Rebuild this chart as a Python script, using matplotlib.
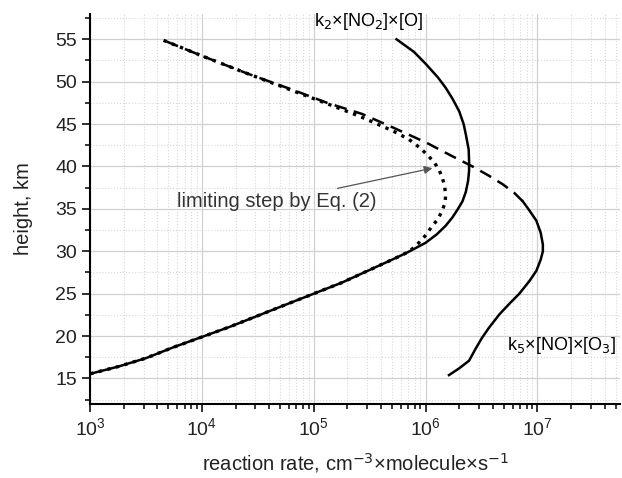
import numpy as np
import matplotlib.pyplot as plt
from matplotlib.ticker import MultipleLocator, LogLocator

plt.rcParams['font.family'] = ['Liberation Sans', 'DejaVu Sans']

# k2 x [NO2] x [O]  (solid)
h_k2 = [15.55, 16.4, 17.4, 18.7, 19.9, 21.1, 22.4, 23.7, 25.0, 26.3, 27.8,
        29.3, 30.0, 31.0, 32.0, 33.0, 34.0, 35.0, 35.9, 37.0, 38.3, 39.5,
        40.6, 42.0, 43.8, 45.0, 46.5, 48.0, 49.3, 50.5, 52.0, 53.5, 55.0]
r_k2 = [1.0e3, 1.78e3, 3.16e3, 5.6e3, 1.0e4, 1.78e4, 3.16e4, 5.6e4, 1.0e5,
        1.78e5, 3.16e5, 5.6e5, 7.2e5, 1.0e6, 1.26e6, 1.51e6, 1.74e6, 1.95e6,
        2.14e6, 2.29e6, 2.4e6, 2.45e6, 2.45e6, 2.43e6, 2.29e6, 2.19e6, 2.0e6,
        1.74e6, 1.51e6, 1.29e6, 1.02e6, 7.9e5, 5.5e5]

# limiting step by Eq. (2)  (dotted)
h_lim = [15.55, 16.4, 17.4, 18.7, 19.9, 21.1, 22.4, 23.7, 25.0, 26.3, 27.8,
         29.3, 30.0, 31.0, 32.0, 32.8, 33.8, 34.8, 35.8, 36.7, 37.7, 38.7,
         39.6, 40.45, 41.3, 42.2, 43.2, 44.2, 45.0, 45.9, 47.5, 49.0, 51.0,
         53.0, 55.0]
r_lim = [1.0e3, 1.78e3, 3.16e3, 5.6e3, 1.0e4, 1.78e4, 3.16e4, 5.6e4, 1.0e5,
         1.78e5, 3.16e5, 5.6e5, 7.2e5, 8.7e5, 1.02e6, 1.12e6, 1.29e6, 1.41e6,
         1.5e6, 1.51e6, 1.48e6, 1.41e6, 1.32e6, 1.2e6, 1.05e6, 8.9e5, 7.1e5,
         5.1e5, 3.7e5, 2.6e5, 1.26e5, 6.3e4, 2.5e4, 1.02e4, 4.3e3]

# k5 x [NO] x [O3]  (solid below ~36 km, dashed above)
h_k5 = [15.4, 16.2, 17.1, 18.5, 19.8, 21.0, 22.6, 24.0, 25.0, 26.5, 27.7, 29.0,
        30.0, 30.8, 32.2, 33.6, 34.8, 35.9, 36.9, 37.9, 38.9, 40.0, 41.2, 42.8,
        44.6, 46.2, 47.5, 49.0, 51.0, 53.0, 55.0]
r_k5 = [1.62e6, 2.0e6, 2.45e6, 2.8e6, 3.2e6, 3.7e6, 4.6e6, 5.8e6, 6.9e6, 8.5e6,
        9.8e6, 1.07e7, 1.12e7, 1.12e7, 1.07e7, 9.8e6, 8.5e6, 7.4e6, 6.2e6,
        4.9e6, 3.7e6, 2.63e6, 1.74e6, 1.02e6, 5.1e5, 2.7e5, 1.32e5, 6.6e4,
        2.5e4, 1.02e4, 4.3e3]
k5_split = 17

fig = plt.figure(figsize=(6.22, 4.78), dpi=100)
ax = fig.add_axes([0.145, 0.155, 0.852, 0.816])

ax.plot(r_k2, h_k2, '-', color='k', lw=1.8)
ax.plot(r_lim, h_lim, ':', color='k', lw=2.4)
ax.plot(r_k5[:k5_split + 1], h_k5[:k5_split + 1], '-', color='k', lw=1.8)
ax.plot(r_k5[k5_split:], h_k5[k5_split:], color='k', lw=1.8,
        linestyle=(0, (5, 3)))

ax.set_xscale('log')
ax.set_xlim(1e3, 5.5e7)
ax.set_ylim(12, 58)
ax.yaxis.set_major_locator(MultipleLocator(5))
ax.yaxis.set_minor_locator(MultipleLocator(2.5))
ax.xaxis.set_major_locator(LogLocator(base=10))
ax.xaxis.set_minor_locator(LogLocator(base=10, subs=np.arange(2, 10)))

ax.grid(which='major', color='#d0d0d0', lw=0.9)
ax.grid(which='minor', color='#d8d8d8', lw=0.8, linestyle=':')
ax.set_axisbelow(True)

for s in ['top', 'right']:
    ax.spines[s].set_visible(False)
ax.spines['left'].set_linewidth(1.5)
ax.spines['bottom'].set_linewidth(1.5)
ax.tick_params(which='major', direction='out', length=6, width=1.3,
               labelsize=14, colors='#222222')
ax.tick_params(which='minor', direction='out', length=3.5, width=1.1)

ax.set_xlabel('reaction rate, cm$^{-3}$×molecule×s$^{-1}$', fontsize=14.5,
              labelpad=9, color='#222222')
ax.set_ylabel('height, km', fontsize=14.5, labelpad=16, color='#222222')

ax.text(1.0e5, 57.1, 'k$_2$×[NO$_2$]×[O]', fontsize=13, va='center',
        ha='left', clip_on=False)
ax.text(5.4e6, 18.9, 'k$_5$×[NO]×[O$_3$]', fontsize=13, va='center',
        ha='left')
ax.annotate('limiting step by Eq. (2)', xy=(1.15e6, 39.8), xytext=(6.0e3, 35.9),
            fontsize=14.5, va='center', ha='left', color='#333333',
            arrowprops=dict(arrowstyle='-|>', color='#555555', lw=0.9,
                            shrinkA=2, shrinkB=0, mutation_scale=12))

fig.savefig('out.png', dpi=100)
